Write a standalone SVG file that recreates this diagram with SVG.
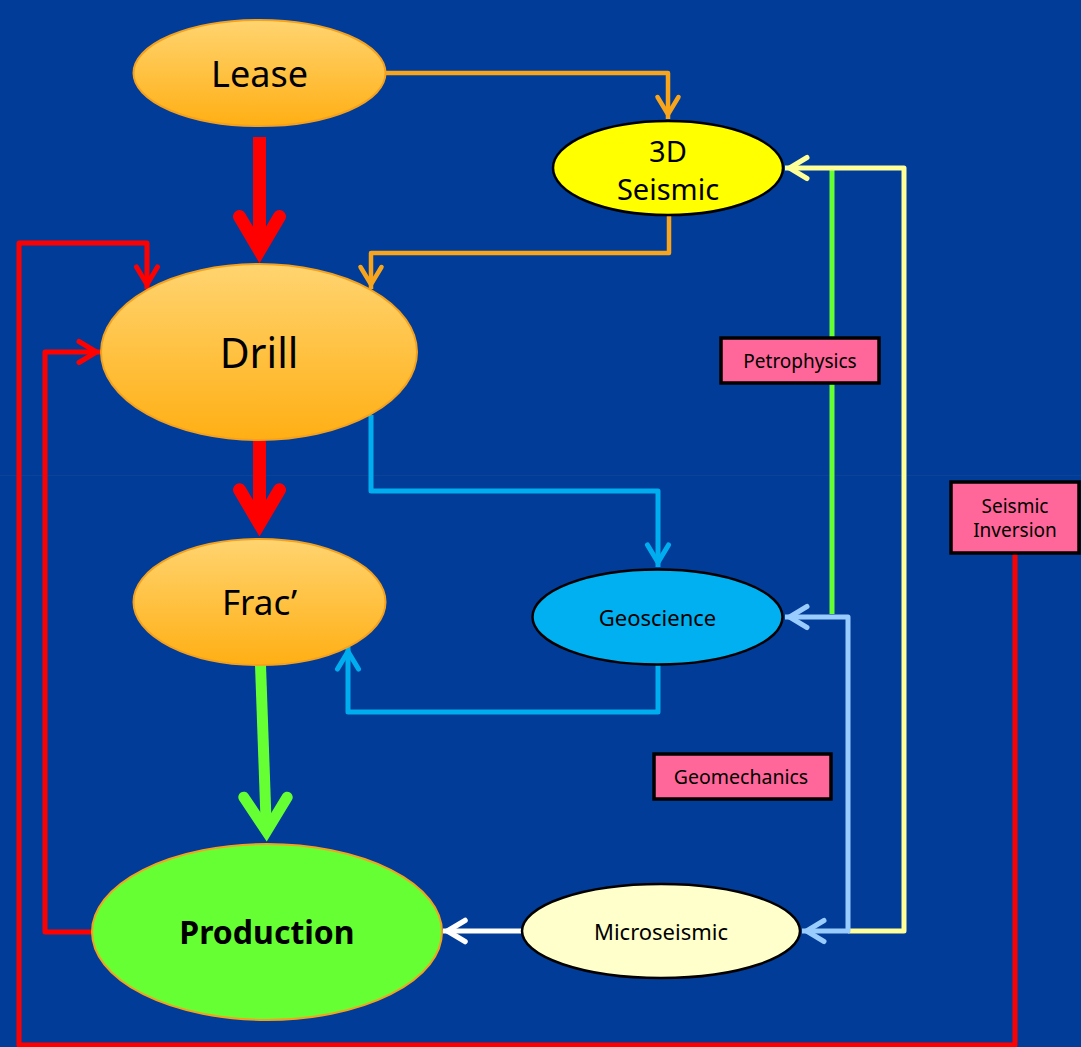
<svg xmlns="http://www.w3.org/2000/svg" width="1081" height="1047" viewBox="0 0 1081 1047">
<defs>
<linearGradient id="gOrange" x1="0" y1="0" x2="0" y2="1">
<stop offset="0" stop-color="#FFD470"/>
<stop offset="1" stop-color="#FFAF14"/>
</linearGradient>
<marker id="mOrange" markerUnits="userSpaceOnUse" viewBox="-30 -16 34 32" markerWidth="34" markerHeight="32" refX="0" refY="0" orient="auto" overflow="visible">
<path d="M-22,-10.5 L-4.5,0 L-22,10.5" fill="none" stroke="#F8A51C" stroke-width="4.5" stroke-linecap="round" stroke-linejoin="miter"/>
</marker>
<marker id="mBlue" markerUnits="userSpaceOnUse" viewBox="-30 -16 34 32" markerWidth="34" markerHeight="32" refX="0" refY="0" orient="auto" overflow="visible">
<path d="M-22,-10.5 L-4.5,0 L-22,10.5" fill="none" stroke="#00AEEF" stroke-width="5" stroke-linecap="round" stroke-linejoin="miter"/>
</marker>
<marker id="mLtBlue" markerUnits="userSpaceOnUse" viewBox="-30 -16 34 32" markerWidth="34" markerHeight="32" refX="0" refY="0" orient="auto-start-reverse" overflow="visible">
<path d="M-22,-10.5 L-4.5,0 L-22,10.5" fill="none" stroke="#99CCFF" stroke-width="5" stroke-linecap="round" stroke-linejoin="miter"/>
</marker>
<marker id="mYellow" markerUnits="userSpaceOnUse" viewBox="-30 -16 34 32" markerWidth="34" markerHeight="32" refX="0" refY="0" orient="auto" overflow="visible">
<path d="M-22,-10.5 L-4.5,0 L-22,10.5" fill="none" stroke="#FFFF99" stroke-width="5" stroke-linecap="round" stroke-linejoin="miter"/>
</marker>
<marker id="mRed" markerUnits="userSpaceOnUse" viewBox="-30 -16 34 32" markerWidth="34" markerHeight="32" refX="0" refY="0" orient="auto" overflow="visible">
<path d="M-22,-10.5 L-4.5,0 L-22,10.5" fill="none" stroke="#FF0000" stroke-width="5" stroke-linecap="round" stroke-linejoin="miter"/>
</marker>
<marker id="mWhite" markerUnits="userSpaceOnUse" viewBox="-30 -16 34 32" markerWidth="34" markerHeight="32" refX="0" refY="0" orient="auto" overflow="visible">
<path d="M-22,-10.5 L-4.5,0 L-22,10.5" fill="none" stroke="#FFFFFF" stroke-width="5.5" stroke-linecap="round" stroke-linejoin="miter"/>
</marker>
</defs>
<style>
.orangeNode{fill:url(#gOrange);stroke:#F4A21E;stroke-width:2}
.blk{stroke:#000;stroke-width:2.5}
.lbl{font-family:"Noto Sans","Liberation Sans",sans-serif;fill:#000;text-anchor:middle}
.box{fill:#FF6699;stroke:#000;stroke-width:3.5}
.ln{fill:none;stroke-linejoin:round}
.thick{fill:none;stroke-linecap:round;stroke-linejoin:miter}
</style>
<rect x="0" y="0" width="1081" height="1047" fill="#003C98"/>
<rect x="0" y="475" width="1081" height="1" fill="#0B4399"/>

<g id="connectors">
<path class="ln" d="M386,73 H668 V119" stroke="#F8A51C" stroke-width="4.5" marker-end="url(#mOrange)"/>
<path class="ln" d="M669,215 V253 H371 V289" stroke="#F8A51C" stroke-width="4.5" marker-end="url(#mOrange)"/>
<path class="ln" d="M371,415 V491 H658 V567" stroke="#00AEEF" stroke-width="5" marker-end="url(#mBlue)"/>
<path class="ln" d="M658,665 V712 H348 V647" stroke="#00AEEF" stroke-width="5" marker-end="url(#mBlue)"/>
<path class="ln" d="M92,932 H45 V352 H101" stroke="#FF0000" stroke-width="5" marker-end="url(#mRed)"/>
<path class="ln" d="M1015,553 V1045 H19 V243 H147 V289" stroke="#FF0000" stroke-width="5" marker-end="url(#mRed)"/>
<path class="ln" d="M521,931 H443" stroke="#FFFFFF" stroke-width="5" marker-end="url(#mWhite)"/>
<path class="ln" d="M832,168 V614" stroke="#66FF33" stroke-width="5"/>
<path class="ln" d="M848,931 H904 V168 H785" stroke="#FFFF99" stroke-width="5" marker-end="url(#mYellow)"/>
<path class="ln" d="M785,617 H848 V931 H802" stroke="#99CCFF" stroke-width="5" marker-start="url(#mLtBlue)" marker-end="url(#mLtBlue)"/>
<path d="M259.5,137 V251" stroke="#FF0000" stroke-width="13" fill="none"/>
<path class="thick" d="M239.5,216.5 L259.5,250.4 L279.5,216.5" stroke="#FF0000" stroke-width="13"/>
<path d="M259.5,441 V524" stroke="#FF0000" stroke-width="13" fill="none"/>
<path class="thick" d="M239.5,489.8 L259.5,523.8 L279.5,489.8" stroke="#FF0000" stroke-width="13"/>
<path d="M260.5,665 L266.4,831" stroke="#66FF33" stroke-width="11" fill="none"/>
<path class="thick" d="M243.8,797.2 L266.5,831.3 L287.2,797.2" stroke="#66FF33" stroke-width="11"/>
</g>

<g id="node-lease">
<ellipse class="orangeNode" cx="259.5" cy="73" rx="126" ry="53"/>
<text class="lbl" x="259.5" y="87" font-size="36">Lease</text>
</g>
<g id="node-3dseismic">
<ellipse class="blk" fill="#FFFF00" cx="668" cy="168" rx="115" ry="47"/>
<text class="lbl" x="668" y="162" font-size="29">3D</text>
<text class="lbl" x="668" y="200" font-size="29">Seismic</text>
</g>
<g id="node-drill">
<ellipse class="orangeNode" cx="259" cy="352" rx="158" ry="88"/>
<text class="lbl" x="259" y="368" font-size="41">Drill</text>
</g>
<g id="node-frac">
<ellipse class="orangeNode" cx="259.5" cy="602" rx="126" ry="63"/>
<text class="lbl" x="259.5" y="615" font-size="35">Frac’</text>
</g>
<g id="node-geoscience">
<ellipse class="blk" fill="#00B0F0" cx="657.5" cy="617" rx="125" ry="47.5"/>
<text class="lbl" x="657.5" y="626" font-size="22">Geoscience</text>
</g>
<g id="node-production">
<ellipse fill="#66FF33" stroke="#F4A21E" stroke-width="2" cx="267" cy="932" rx="175" ry="88"/>
<text class="lbl" x="267" y="944" font-size="32" font-weight="bold">Production</text>
</g>
<g id="node-microseismic">
<ellipse class="blk" fill="#FFFFCC" cx="661" cy="931" rx="139" ry="47"/>
<text class="lbl" x="661" y="940" font-size="22">Microseismic</text>
</g>
<g id="label-petrophysics">
<rect class="box" x="721" y="338" width="158" height="45"/>
<text class="lbl" x="800" y="368" font-size="19">Petrophysics</text>
</g>
<g id="label-geomechanics">
<rect class="box" x="654" y="754" width="177" height="45"/>
<text class="lbl" x="741" y="784" font-size="19.5">Geomechanics</text>
</g>
<g id="label-seismic-inversion">
<rect class="box" x="951" y="482" width="128" height="71"/>
<text class="lbl" x="1015" y="513" font-size="19">Seismic</text>
<text class="lbl" x="1015" y="537" font-size="19">Inversion</text>
</g>
</svg>
